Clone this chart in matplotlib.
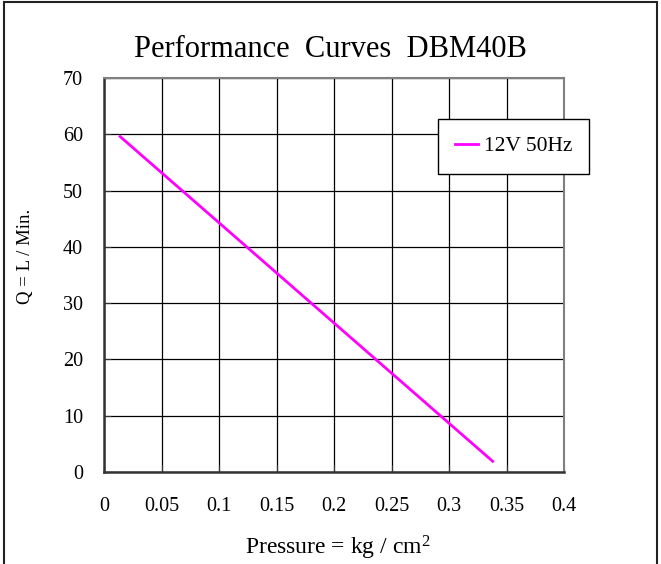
import numpy as np
import matplotlib
matplotlib.use("Agg")
import matplotlib.pyplot as plt
from matplotlib.patches import Rectangle

# du lieu doc tu hinh
pressure = [0.014, 0.338]
flow = [59.6, 1.9]
x_ticks = [0, 0.05, 0.1, 0.15, 0.2, 0.25, 0.3, 0.35, 0.4]
x_labels = ["0", "0.05", "0.1", "0.15", "0.2", "0.25", "0.3", "0.35", "0.4"]
y_ticks = [0, 10, 20, 30, 40, 50, 60, 70]
series_name = "12V 50Hz"
title = "Performance  Curves  DBM40B"

plt.rcParams['font.family'] = ['Liberation Serif', 'DejaVu Serif']

fig = plt.figure(figsize=(6.61, 5.64), dpi=100)
ax = fig.add_axes([104/661, 1 - 472/564, 460/661, 394/564])

ax.plot(pressure, flow, color='#ff00ff', linewidth=2, label=series_name)

ax.set_xlim(0, 0.4)
ax.set_ylim(0, 70)
ax.set_xticks(x_ticks)
ax.set_xticklabels(x_labels)
ax.set_yticks(y_ticks)
ax.tick_params(axis='both', labelsize=14.5, direction='in', length=5, color='#333333')
ax.tick_params(axis='x', pad=18)
ax.tick_params(axis='y', pad=15)
ax.grid(True, color='black', linewidth=0.9)
ax.set_axisbelow(True)

for s in ['left', 'bottom']:
    ax.spines[s].set_color('#333333')
    ax.spines[s].set_linewidth(1.8)
for s in ['top', 'right']:
    ax.spines[s].set_color('#808080')
    ax.spines[s].set_linewidth(1.5)

leg = ax.legend(loc='upper left', bbox_to_anchor=(438/661, 1 - 119/564),
                bbox_transform=fig.transFigure, fontsize=15.5, fancybox=False,
                framealpha=1, edgecolor='black', borderpad=0.8,
                handlelength=1.07, handletextpad=0.25, borderaxespad=0)
leg.get_frame().set_linewidth(1.0)

fig.text(0.5, 1 - 56.7/564, title, ha='center', va='baseline', fontsize=22)
fig.text(25.5/661, 1 - 256.7/564, "Q = L / Min.", rotation=90,
         ha='center', va='center', fontsize=13.5)
fig.text(337.5/661, 1 - 554/564, r"Pressure = kg / cm$\mathregular{^2}$", ha='center',
         va='baseline', fontsize=17)

# khung vien ngoai
fig.patches.append(Rectangle((4/661, -0.02), 653/661, 1.016, transform=fig.transFigure,
                             fill=False, edgecolor='#222222', linewidth=1.5))

fig.savefig("out.png", dpi=100)
